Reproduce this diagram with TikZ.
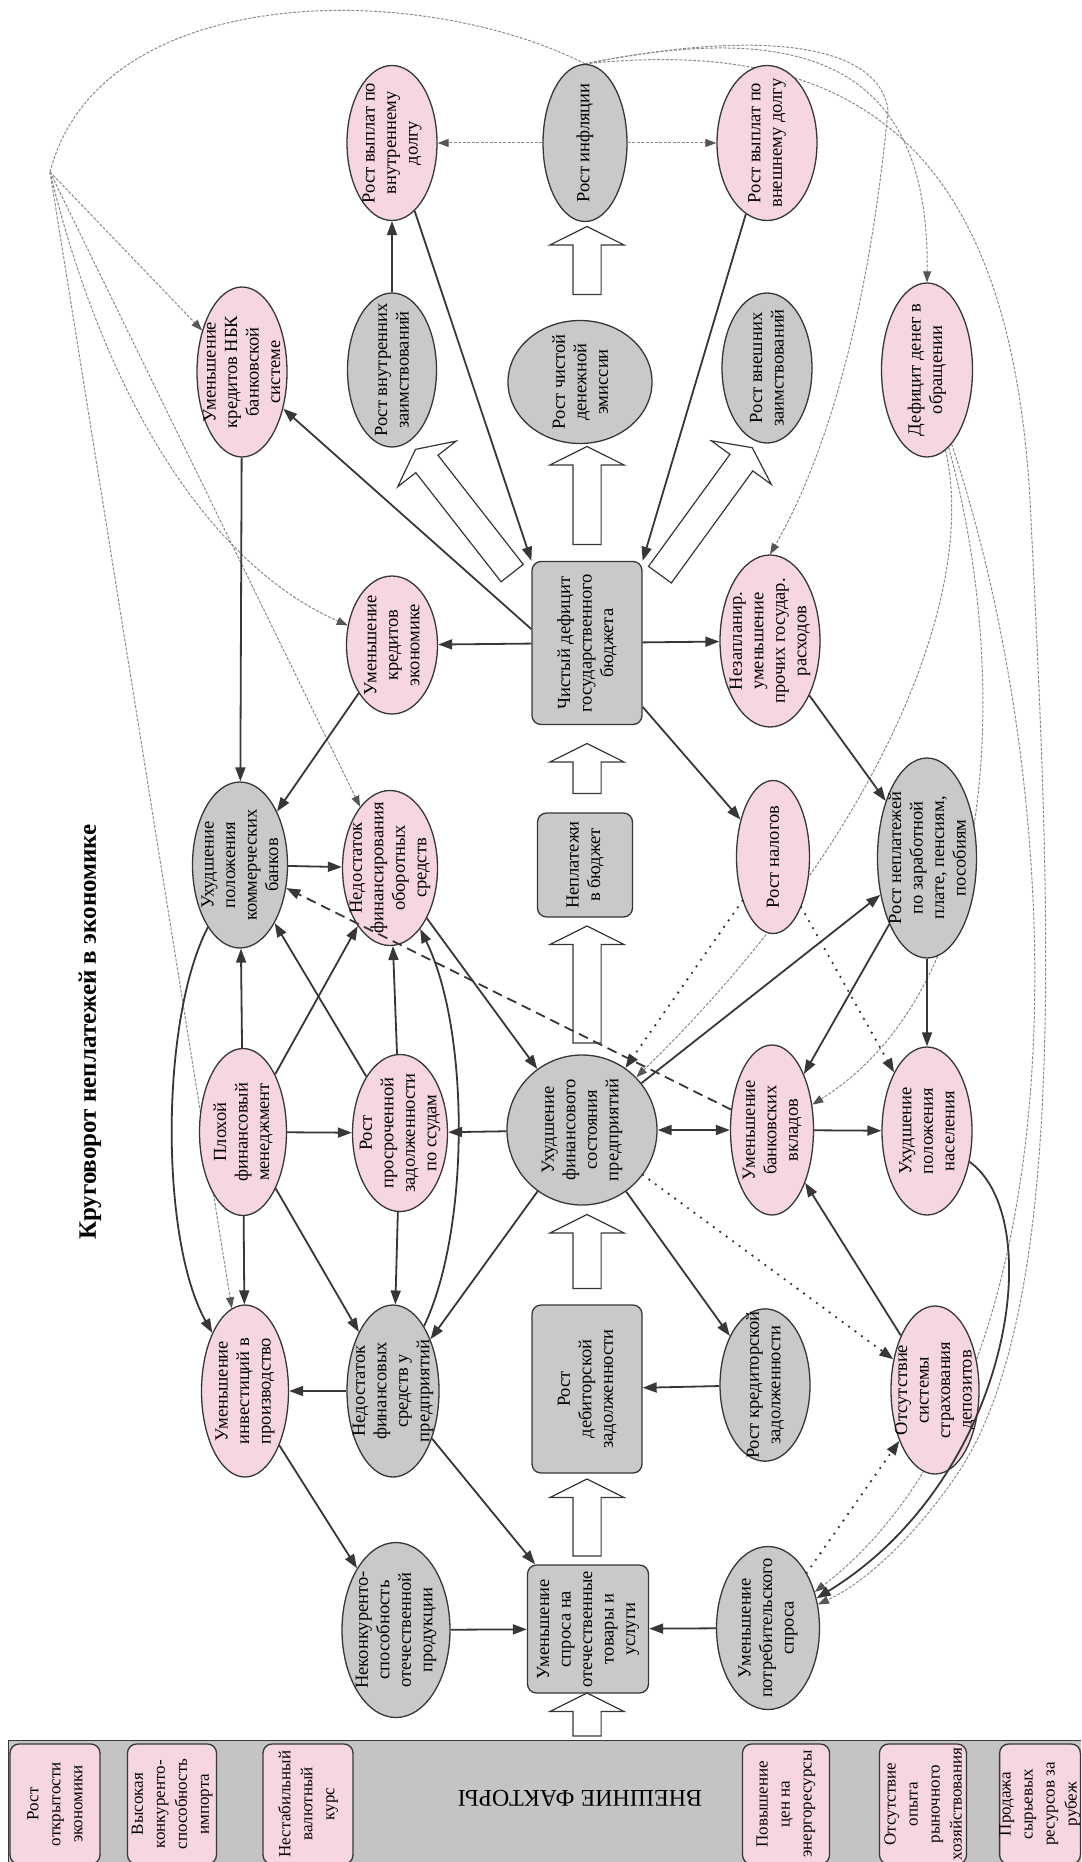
\documentclass[tikz,border=0pt]{standalone}
\usepackage{fontspec}
\setmainfont{Liberation Serif}
\usetikzlibrary{arrows.meta,shapes.geometric,shapes.arrows,backgrounds}
\definecolor{pinkf}{RGB}{246,214,224}
\definecolor{greyf}{RGB}{201,201,201}
\definecolor{panelf}{RGB}{196,196,196}
\definecolor{linec}{RGB}{55,55,55}
\definecolor{thinc}{RGB}{140,140,140}
\tikzset{
  ov/.style 2 args={ellipse,draw=linec,line width=1.3pt,rotate=90,minimum width=#2,minimum height=#1,inner sep=-20pt,align=center,font=\fontsize{18.5}{21.5}\selectfont},
  bx/.style 2 args={rectangle,rounded corners=9pt,draw=linec,line width=1.3pt,rotate=90,minimum width=#2,minimum height=#1,inner sep=0pt,align=center,font=\fontsize{18.5}{21.5}\selectfont},
  pk/.style={fill=pinkf},
  gr/.style={fill=greyf},
  fb/.style={bx={#1}{120pt},fill=pinkf,font=\fontsize{17}{22}\selectfont},
  fat/.style={single arrow,draw=linec,fill=white,line width=1.2pt,minimum width=73pt,single arrow head extend=23pt,single arrow tip angle=127,inner xsep=0pt,inner ysep=13.5pt},
  arr/.style={draw=linec,line width=1.8pt,->},
  arrb/.style={draw=linec,line width=1.8pt,<->},
  dsh/.style={arr,dash pattern=on 10pt off 6pt},
  dts/.style={arr,line width=2.6pt,line cap=round,dash pattern=on 0pt off 8pt},
  thn/.style={draw=thinc,line width=1pt,dash pattern=on 3pt off 1.5pt,-{Triangle[length=11pt,width=8pt,color=linec!85]}}
}
\begin{document}
\begin{tikzpicture}[x=1pt,y=-1pt,>={Triangle[length=14pt,width=10pt]}]
\useasboundingbox (0,0) rectangle (1081,1862);
\clip (0,0) rectangle (1081,1862);
\node[rotate=90,font=\fontsize{25}{28}\selectfont\bfseries] (title) at (90,1032) {Круговорот неплатежей в экономике};
% row 1
\node[ov={90pt}{155pt},pk] (vnutrdolg) at (392,143) {Рост выплат по\\внутреннему\\долгу};
\node[ov={84pt}{157pt},gr] (infl) at (585,143) {Рост инфляции};
\node[ov={100pt}{155pt},pk] (vneshdolg) at (767,143) {Рост выплат по\\внешнему долгу};
% row 2
\node[ov={90pt}{170pt},pk] (nbk) at (242,372) {Уменьшение\\кредитов НБК\\банковской\\системе};
\node[ov={89pt}{154pt},gr] (vnutrzaim) at (392,370) {Рост внутренних\\заимствований};
\node[ov={144pt}{123pt},gr] (emis) at (580,382) {Рост чистой\\денежной\\эмиссии};
\node[ov={90pt}{150pt},gr] (vneshzaim) at (767,368) {Рост внешних\\заимствований};
\node[ov={91pt}{174pt},pk] (defdeneg) at (927,370) {Дефицит денег в\\обращении};
% row 3
\node[ov={91pt}{138pt},pk] (kredek) at (392,645) {Уменьшение\\кредитов\\экономике};
\node[bx={110pt}{163pt},gr] (budg) at (587,643) {Чистый дефицит\\государственного\\бюджета};
\node[ov={100pt}{172pt},pk] (nezapl) at (770,641) {Незапланир.\\уменьшение\\прочих государ.\\расходов};
% row 4
\node[ov={95pt}{166pt},gr] (kombank) at (240,865) {Ухудшение\\положения\\коммерческих\\банков};
\node[ov={95pt}{155pt},pk] (nedfin) at (390,868) {Недостаток\\финансирования\\оборотных\\средств};
\node[bx={95pt}{104pt},gr] (nepl) at (585,865) {Неплатежи\\в бюджет};
\node[ov={73pt}{153pt},pk] (nalog) at (773,857) {Рост налогов};
\node[ov={99pt}{200pt},gr] (zarpl) at (927,858) {Рост неплатежей\\по заработной\\плате, пенсиям,\\пособиям};
% row 5
\node[ov={87pt}{167pt},pk] (plox) at (243,1132) {Плохой\\финансовый\\менеджмент};
\node[ov={95pt}{157pt},pk] (prosr) at (400,1133) {Рост\\просроченной\\задолженности\\по ссудам};
\node[circle,draw=linec,line width=1.3pt,minimum size=150pt,inner sep=-20pt,rotate=90,align=center,font=\fontsize{18.5}{21.5}\selectfont,gr] (predpr) at (582,1130) {Ухудшение\\финансового\\состояния\\предприятий};
\node[ov={83pt}{170pt},pk] (vklad) at (772,1130) {Уменьшение\\банковских\\вкладов};
\node[ov={90pt}{168pt},pk] (nasel) at (927,1131) {Ухудшение\\положения\\населения};
% row 6
\node[ov={87pt}{172pt},pk] (invest) at (245,1391) {Уменьшение\\инвестиций в\\производство};
\node[ov={92pt}{172pt},gr] (nedsr) at (393,1391) {Недостаток\\финансовых\\средств у\\предприятий};
\node[bx={110pt}{168pt},gr] (debit) at (587,1389) {Рост\\дебиторской\\задолженности};
\node[ov={90pt}{145pt},gr] (kredit) at (765,1385) {Рост кредиторской\\задолженности};
\node[ov={88pt}{168pt},pk] (strah) at (935,1390) {Отсутствие\\системы\\страхования\\депозитов};
% row 7
\node[ov={108pt}{175pt},gr] (nekonk) at (396,1630) {Неконкуренто-\\способность\\отечественной\\продукции};
\node[bx={121pt}{128pt},gr] (spros) at (588,1629) {Уменьшение\\спроса на\\отечественные\\товары и\\услуги};
\node[ov={103pt}{163pt},gr] (potreb) at (768,1628) {Уменьшение\\потребительского\\спроса};
% external factors
\fill[panelf] (8,1740) rectangle (1081,1870);
\draw[linec,line width=1pt] (8,1870) -- (8,1740) -- (1081,1740);
\node[fb=90pt] (f1) at (55,1804) {Рост\\открытости\\экономики};
\node[fb=89pt] (f2) at (172,1804) {Высокая\\конкуренто-\\способность\\импорта};
\node[fb=90pt] (f3) at (308,1804) {Нестабильный\\валютный\\курс};
\node[rotate=180,font=\fontsize{24}{26}\selectfont] (ext) at (580,1798) {ВНЕШНИЕ ФАКТОРЫ};
\node[fb=87pt] (f5) at (786,1804) {Повышение\\цен на\\энергоресурсы};
\node[fb=87pt] (f6) at (923,1804) {Отсутствие\\опыта\\рыночного\\хозяйствования};
\node[fb=80pt] (f7) at (1040,1804) {Продажа\\сырьевых\\ресурсов за\\рубеж};
% hollow arrows
\node[fat,rotate=90,minimum height=68pt] (ha1) at (587,264) {};
\node[fat,rotate=90,minimum height=98pt] (ha2) at (587,499) {};
\node[fat,rotate=128,minimum height=157pt] (ha3) at (466,514) {};
\node[fat,rotate=54,minimum height=157pt] (ha4) at (704,514) {};
\node[fat,rotate=90,minimum height=50pt] (ha5) at (587,772) {};
\node[fat,rotate=90,minimum height=117pt] (ha6) at (587,988) {};
\node[fat,rotate=90,minimum height=74pt] (ha7) at (587,1255) {};
\node[fat,rotate=90,minimum height=77pt] (ha8) at (587,1521) {};
\node[fat,rotate=90,minimum height=43pt] (ha9) at (587,1718) {};
% solid links
\draw[arr] (vnutrzaim) -- (vnutrdolg);
\draw[arr] (vnutrdolg) -- (budg.north east);
\draw[arr] (vneshdolg) -- (budg.south east);
\draw[arr] (budg) -- (kredek);
\draw[arr] (budg) -- (nezapl);
\draw[arr] (budg.76) -- (nbk);
\draw[arr] (budg) -- (nalog);
\draw[arr] (nezapl) -- (zarpl);
\draw[arr] (kredek) -- (kombank);
\draw[arr] (nbk) -- (kombank);
\draw[arr] (kombank) -- (nedfin);
\draw[arr] (prosr) -- (kombank);
\draw[arr] (plox) -- (kombank);
\draw[arr] (plox) -- (nedfin);
\draw[arr] (plox) -- (prosr);
\draw[arr] (plox) -- (invest);
\draw[arr] (plox) -- (nedsr);
\draw[arr] (prosr) -- (nedfin);
\draw[arr] (prosr) -- (nedsr);
\draw[arr] (nedsr) .. controls (470,1230) and (470,1030) .. (nedfin);
\draw[arr] (kombank) .. controls (160,1020) and (160,1240) .. (invest);
\draw[arr] (nedfin) -- (predpr);
\draw[arr] (predpr) -- (prosr);
\draw[arr] (predpr) -- (nedsr);
\draw[arr] (predpr) -- (kredit);
\draw[arr] (predpr) -- (zarpl);
\draw[arrb] (predpr) -- (vklad);
\draw[arr] (zarpl) -- (vklad);
\draw[arr] (zarpl) -- (nasel);
\draw[arr] (vklad) -- (nasel);
\draw[arr] (strah) -- (vklad);
\draw[arr] (kredit) -- (debit);
\draw[arr] (nedsr) -- (invest);
\draw[arr] (invest) -- (nekonk);
\draw[arr] (nedsr) -- (spros);
\draw[arr] (nekonk) -- (spros);
\draw[arr] (potreb) -- (spros);
\draw[arr] (nasel) .. controls (1050,1220) and (1010,1480) .. (potreb);
\draw[dsh] (vklad) -- (kombank);
\draw[dts] (nalog) -- (predpr);
\draw[dts] (nalog) -- (nasel);
\draw[dts] (predpr) -- (strah);
\draw[dts] (potreb) -- (strah);
% inflation links
\begin{pgfonlayer}{background}
\fill[white] (0,0) rectangle (1081,1862);
\coordinate (hub) at (50,172);
\draw[thn,-] (infl.east) .. controls (420,-20) and (100,-20) .. (hub);
\draw[thn] (hub) -- (nbk);
\draw[thn] (hub) .. controls (100,380) and (200,560) .. (kredek);
\draw[thn] (hub) -- (nedfin);
\draw[thn] (hub) -- (invest);
\draw[thn] (infl) -- (vnutrdolg);
\draw[thn] (infl) -- (vneshdolg);
\draw[thn] (infl.east) .. controls (800,20) and (930,60) .. (defdeneg.east);
\draw[thn] (infl.east) .. controls (780,25) and (880,50) .. (888,110) .. controls (870,300) and (830,450) .. (nezapl.east);
\draw[thn] (infl.east) .. controls (860,35) and (1010,150) .. (1030,500) .. controls (1050,900) and (1070,1300) .. (960,1470) .. controls (920,1530) and (870,1580) .. (potreb);
\draw[thn] (defdeneg) .. controls (980,600) and (870,850) .. (predpr);
\draw[thn] (defdeneg) .. controls (1005,650) and (1010,980) .. (vklad);
\draw[thn] (defdeneg) .. controls (1070,800) and (1090,1380) .. (potreb);
\end{pgfonlayer}
\end{tikzpicture}
\end{document}
